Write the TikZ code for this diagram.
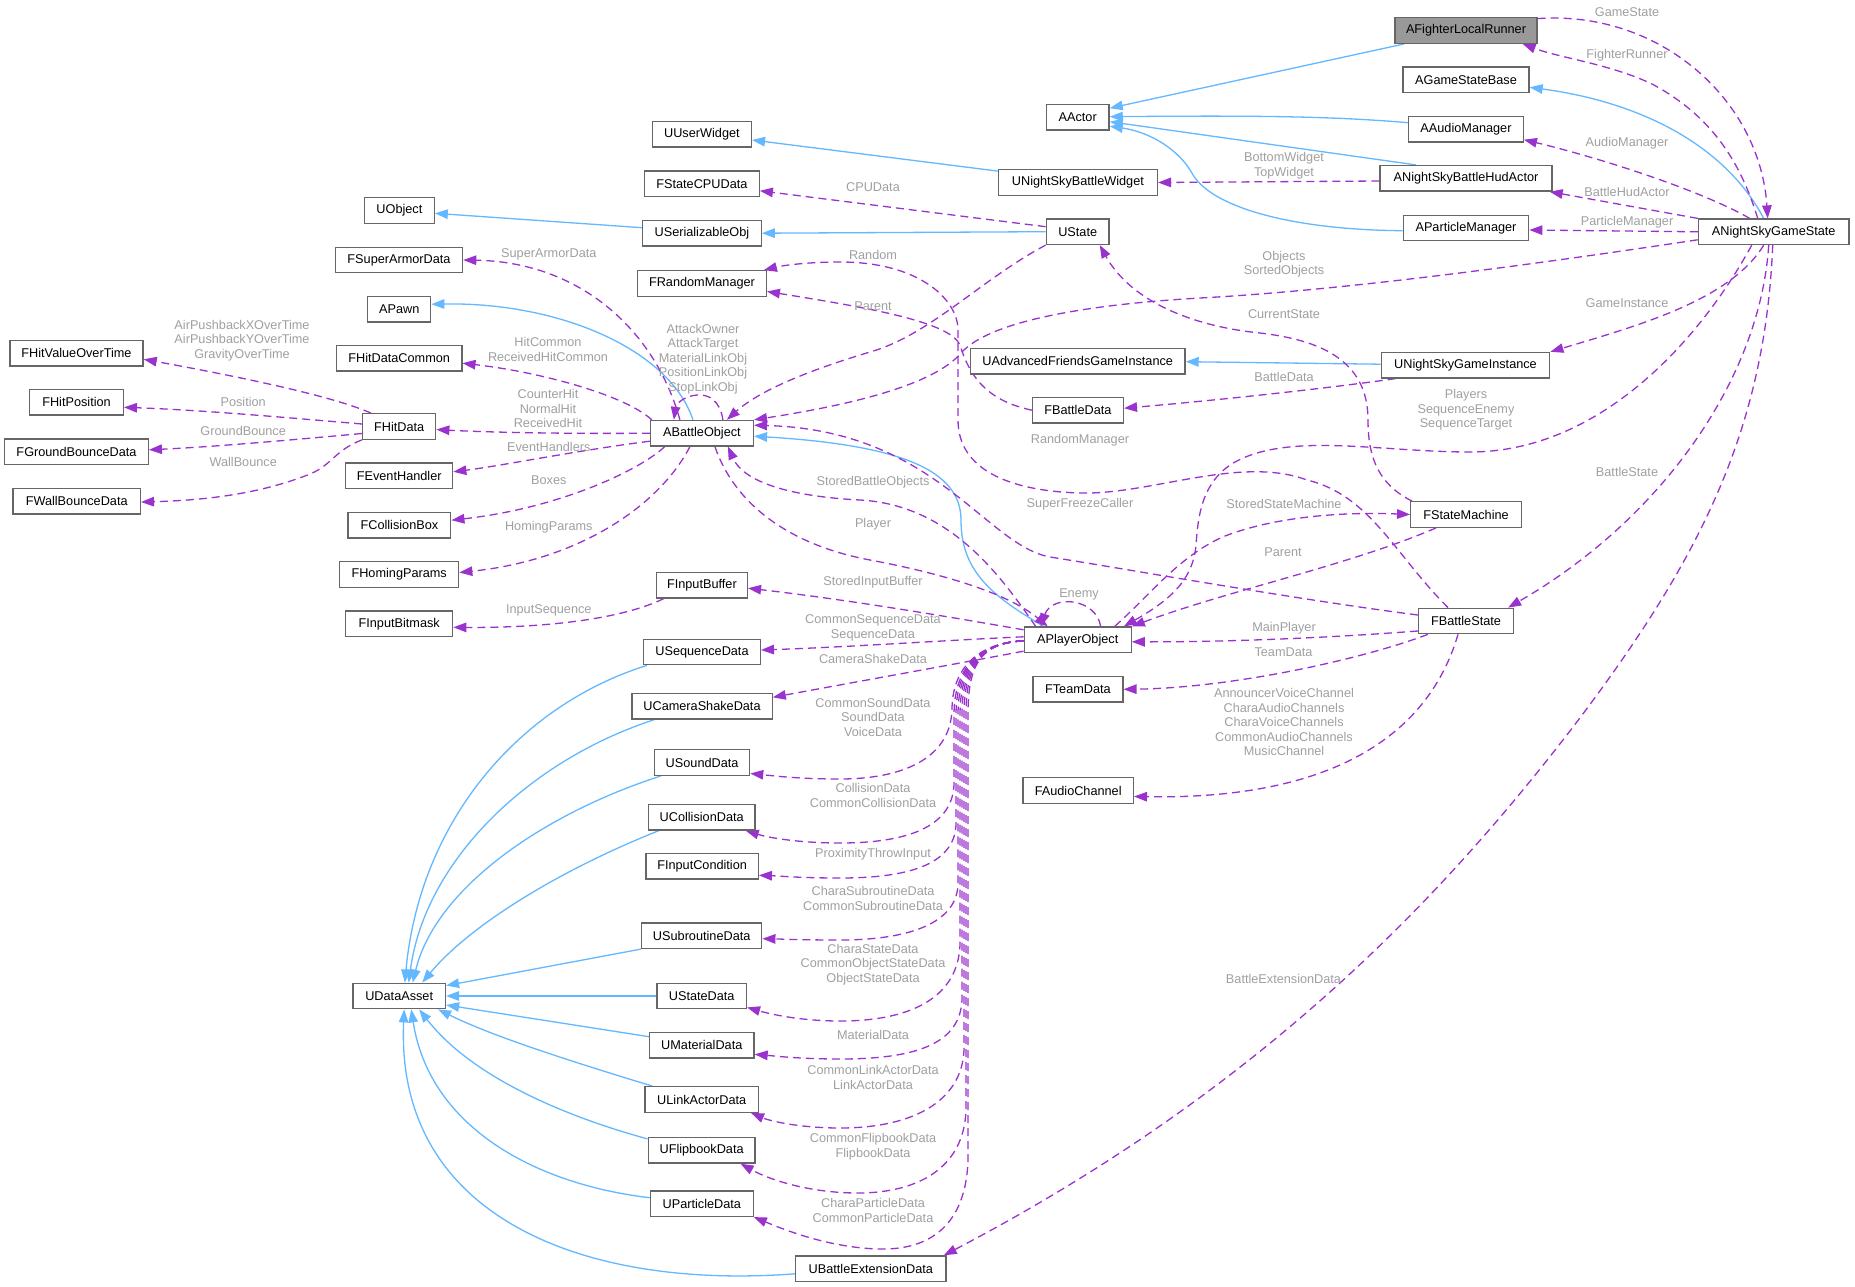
\documentclass[tikz,border=0pt]{standalone}
\usepackage{fontspec}
\setmainfont{Liberation Sans}
\usetikzlibrary{arrows.meta,calc}
\definecolor{edgeblue}{HTML}{63B8FF}
\definecolor{edgepurple}{HTML}{9A32CD}
\definecolor{boxborder}{HTML}{666666}
\definecolor{boxfill}{HTML}{999999}
\definecolor{lblgray}{HTML}{A0A0A0}
\pgfdeclarelayer{bg}
\pgfdeclarelayer{paper}
\pgfsetlayers{paper,bg,main}
\begin{document}
\begin{tikzpicture}[x=1pt,y=-1pt,
  cls/.style={draw=boxborder,line width=1.3pt,fill=white,minimum height=25.5pt,inner sep=0pt,font=\fontsize{12.7}{14.5}\selectfont,text=black},
  lbl/.style={text=lblgray,font=\fontsize{12.7}{14.5}\selectfont,align=center,inner sep=0pt},
  inhedge/.style={draw=edgeblue,line width=1.3pt,-{Triangle[length=13pt,width=9.5pt]}},
  usageedge/.style={draw=edgepurple,line width=1.3pt,dash pattern=on 8pt off 5pt,-{Triangle[length=13pt,width=9.5pt]}},
]
\useasboundingbox (0,0) rectangle (1855,1287);
\begin{pgfonlayer}{paper}
\fill[white] (0,0) rectangle (1855,1287);
\end{pgfonlayer}

% ---------------- nodes ----------------
\node[cls,minimum width=142pt,fill=boxfill] (FLR) at (1466,30.5) {AFighterLocalRunner};
\node[cls,minimum width=126pt] (GSB) at (1466,79.7) {AGameStateBase};
\node[cls,minimum width=114.5pt] (AAM) at (1466,129.3) {AAudioManager};
\node[cls,minimum width=172pt] (HUD) at (1466,178.3) {ANightSkyBattleHudActor};
\node[cls,minimum width=125.5pt] (APM) at (1466,228) {AParticleManager};
\node[cls,minimum width=150.6pt] (NGS) at (1773.7,231.8) {ANightSkyGameState};
\node[cls,minimum width=168.6pt] (NGI) at (1465.5,365.2) {UNightSkyGameInstance};
\node[cls,minimum width=110.6pt] (FSM) at (1466,514.5) {FStateMachine};
\node[cls,minimum width=95pt] (FBS) at (1466,621) {FBattleState};
\node[cls,minimum width=62.8pt] (AAC) at (1077.7,117.2) {AActor};
\node[cls,minimum width=99pt] (UUW) at (701.9,134.3) {UUserWidget};
\node[cls,minimum width=159pt] (NBW) at (1077.9,182.5) {UNightSkyBattleWidget};
\node[cls,minimum width=114.7pt] (CPU) at (701.9,183.8) {FStateCPUData};
\node[cls,minimum width=118.6pt] (USO) at (701.9,233.2) {USerializableObj};
\node[cls,minimum width=62.8pt] (UST) at (1077.7,231.7) {UState};
\node[cls,minimum width=128.5pt] (FRM) at (702,283.5) {FRandomManager};
\node[cls,minimum width=214.7pt] (AFG) at (1077.7,361.2) {UAdvancedFriendsGameInstance};
\node[cls,minimum width=91pt] (FBD) at (1077.9,410.2) {FBattleData};
\node[cls,minimum width=103pt] (ABO) at (701.9,433.2) {ABattleObject};
\node[cls,minimum width=91pt] (FIB) at (701.9,585.2) {FInputBuffer};
\node[cls,minimum width=107pt] (APO) at (1077.7,639.8) {APlayerObject};
\node[cls,minimum width=116.7pt] (USQ) at (702,652) {USequenceData};
\node[cls,minimum width=140.3pt] (UCS) at (702,706.3) {UCameraShakeData};
\node[cls,minimum width=90pt] (FTD) at (1077.9,689.3) {FTeamData};
\node[cls,minimum width=110.3pt] (FAC) at (1078.2,790.5) {FAudioChannel};
\node[cls,minimum width=69.6pt] (UOB) at (399.4,210.5) {UObject};
\node[cls,minimum width=127.3pt] (FSA) at (399,260) {FSuperArmorData};
\node[cls,minimum width=63pt] (APW) at (399.2,309.2) {APawn};
\node[cls,minimum width=125.3pt] (FHC) at (399.2,358.2) {FHitDataCommon};
\node[cls,minimum width=73.1pt] (FHD) at (399.2,426.5) {FHitData};
\node[cls,minimum width=107pt] (FEH) at (399.2,475.8) {FEventHandler};
\node[cls,minimum width=102.8pt] (FCB) at (399.4,525.2) {FCollisionBox};
\node[cls,minimum width=119pt] (FHP) at (399.2,574.5) {FHomingParams};
\node[cls,minimum width=107pt] (FIM) at (399.2,623.8) {FInputBitmask};
\node[cls,minimum width=133.2pt] (HVT) at (76.5,353.3) {FHitValueOverTime};
\node[cls,minimum width=93.7pt] (FPO) at (76.5,402.3) {FHitPosition};
\node[cls,minimum width=143.6pt] (FGB) at (76.5,451.8) {FGroundBounceData};
\node[cls,minimum width=127.4pt] (FWB) at (76.7,501.2) {FWallBounceData};
\node[cls,minimum width=95pt] (USD) at (702.1,762.5) {USoundData};
\node[cls,minimum width=106.7pt] (UCD) at (701.7,817.3) {UCollisionData};
\node[cls,minimum width=112.3pt] (FIC) at (702.1,866.3) {FInputCondition};
\node[cls,minimum width=120.2pt] (USR) at (701.7,935.7) {USubroutineData};
\node[cls,minimum width=89.4pt] (USTD) at (701.7,996) {UStateData};
\node[cls,minimum width=104.4pt] (UMD) at (701.8,1045.3) {UMaterialData};
\node[cls,minimum width=113.4pt] (ULA) at (701.7,1099.5) {ULinkActorData};
\node[cls,minimum width=106.7pt] (UFB) at (701.6,1150.3) {UFlipbookData};
\node[cls,minimum width=102.7pt] (UPD) at (701.8,1203.7) {UParticleData};
\node[cls,minimum width=150.5pt] (UBE) at (870.8,1268.8) {UBattleExtensionData};
\node[cls,minimum width=92.5pt] (UDA) at (399.2,996) {UDataAsset};

% ---------------- labels ----------------
\node[lbl] (lGameState) at (1627,11.7) {GameState};
\node[lbl] (lFighterRunner) at (1627,55) {FighterRunner};
\node[lbl] (lAudioManager) at (1627,143.3) {AudioManager};
\node[lbl] (lBattleHud) at (1627,191.7) {BattleHudActor};
\node[lbl] (lParticleManager) at (1627,222.3) {ParticleManager};
\node[lbl] (lGameInstance) at (1627,303.3) {GameInstance};
\node[lbl] (lBattleState) at (1627,471.7) {BattleState};
\node[lbl] (lWidgets) at (1284,165.5) {BottomWidget\\TopWidget};
\node[lbl] (lObjects) at (1284,264.2) {Objects\\SortedObjects};
\node[lbl] (lCurrentState) at (1284,314) {CurrentState};
\node[lbl] (lBattleData) at (1284,376.7) {BattleData};
\node[lbl] (lPlayers) at (1466,410) {Players\\SequenceEnemy\\SequenceTarget};
\node[lbl] (lRandomManager) at (1080,440.7) {RandomManager};
\node[lbl] (lSuperFreeze) at (1080,504.3) {SuperFreezeCaller};
\node[lbl] (lStoredSM) at (1284,504) {StoredStateMachine};
\node[lbl] (lParentSM) at (1283,552.3) {Parent};
\node[lbl] (lMainPlayer) at (1284,628.3) {MainPlayer};
\node[lbl] (lTeamData) at (1283.5,652.3) {TeamData};
\node[lbl] (lAudioCh) at (1284,722) {AnnouncerVoiceChannel\\CharaAudioChannels\\CharaVoiceChannels\\CommonAudioChannels\\MusicChannel};
\node[lbl] (lBattleExt) at (1283.5,979.3) {BattleExtensionData};
\node[lbl] (lCPUData) at (873,187.3) {CPUData};
\node[lbl] (lRandom) at (873,255) {Random};
\node[lbl] (lParentU) at (873,306) {Parent};
\node[lbl] (lAttack) at (703,358.8) {AttackOwner\\AttackTarget\\MaterialLinkObj\\PositionLinkObj\\StopLinkObj};
\node[lbl] (lStoredBO) at (873,482.7) {StoredBattleObjects};
\node[lbl] (lPlayer) at (873,524.3) {Player};
\node[lbl] (lStoredIB) at (873,582.7) {StoredInputBuffer};
\node[lbl] (lSeq) at (873,628) {CommonSequenceData\\SequenceData};
\node[lbl] (lCam) at (873,659.3) {CameraShakeData};
\node[lbl] (lSound) at (873,717.3) {CommonSoundData\\SoundData\\VoiceData};
\node[lbl] (lColl) at (873,795.3) {CollisionData\\CommonCollisionData};
\node[lbl] (lProx) at (873,854) {ProximityThrowInput};
\node[lbl] (lSub) at (873,898.7) {CharaSubroutineData\\CommonSubroutineData};
\node[lbl] (lState) at (873,964.7) {CharaStateData\\CommonObjectStateData\\ObjectStateData};
\node[lbl] (lMat) at (873,1034.7) {MaterialData};
\node[lbl] (lLink) at (873,1077.3) {CommonLinkActorData\\LinkActorData};
\node[lbl] (lFlip) at (873,1146.5) {CommonFlipbookData\\FlipbookData};
\node[lbl] (lPart) at (873,1210.5) {CharaParticleData\\CommonParticleData};
\node[lbl] (lEnemy) at (1079,594.3) {Enemy};
\node[lbl] (lSuperArmor) at (548.8,254.3) {SuperArmorData};
\node[lbl] (lHitCommon) at (548,349.7) {HitCommon\\ReceivedHitCommon};
\node[lbl] (lCounterHit) at (548,408.6) {CounterHit\\NormalHit\\ReceivedHit};
\node[lbl] (lEventHandlers) at (548.8,446.7) {EventHandlers};
\node[lbl] (lBoxes) at (548.8,480.3) {Boxes};
\node[lbl] (lHoming) at (548.8,527.7) {HomingParams};
\node[lbl] (lInputSeq) at (548.8,610.7) {InputSequence};
\node[lbl] (lAirPush) at (242,340.7) {AirPushbackXOverTime\\AirPushbackYOverTime\\GravityOverTime};
\node[lbl] (lPosition) at (243.2,402.3) {Position};
\node[lbl] (lGround) at (243.2,431.3) {GroundBounce};
\node[lbl] (lWall) at (243.2,462.3) {WallBounce};

% ---------------- edges ----------------
\begin{pgfonlayer}{bg}
% inheritance
\draw[inhedge] ($(FLR.south west)+(10,0)$) -- ($(AAC.east)+(0,-9)$);
\draw[inhedge] ($(AAM.west)+(0,-6.6)$) .. controls (1330,116) and (1250,115.5) .. ($(AAC.east)+(0,-0.5)$);
\draw[inhedge] ($(HUD.north west)+(36.5,0)$) -- ($(AAC.east)+(0,4.5)$);
\draw[inhedge] ($(APM.west)+(0,2.7)$) .. controls (1300,230) and (1215,210) .. (1193,175) .. controls (1180,150) and (1150,132) .. ($(AAC.east)+(0,9)$);
\draw[inhedge] ($(NGS.north)+(-10,0)$) .. controls (1725,145) and (1640,102) .. ($(GSB.east)+(0,7.6)$);
\draw[inhedge] ($(NBW.north west)+(0,2)$) -- ($(UUW.east)+(0,5.7)$);
\draw[inhedge] (UST.west) -- (USO.east);
\draw[inhedge] ($(USO.west)+(0,-5.5)$) -- ($(UOB.east)+(0,2.8)$);
\draw[inhedge] ($(ABO.north)+(-9,0)$) .. controls (670,350) and (560,302) .. ($(APW.east)+(0,-5)$);
\draw[inhedge] ($(APO.north)+(-34,0)$) .. controls (990,595) and (961,570) .. (961,520) .. controls (961,470) and (900,445) .. ($(ABO.east)+(0,3)$);
\draw[inhedge] ($(NGI.west)+(0,-1)$) -- ($(AFG.east)+(0,0.5)$);
\draw[inhedge] ($(USQ.south west)+(4,0)$) .. controls (520,705) and (420,820) .. ($(UDA.north)+(5.6,0)$);
\draw[inhedge] ($(UCS.south west)+(23,0)$) .. controls (530,760) and (425,860) .. ($(UDA.north)+(9.5,0)$);
\draw[inhedge] ($(USD.south west)+(7,0)$) .. controls (540,815) and (435,890) .. ($(UDA.north)+(13.5,0)$);
\draw[inhedge] ($(UCD.south west)+(11,0)$) .. controls (560,870) and (470,925) .. ($(UDA.north)+(23,0)$);
\draw[inhedge] (USR.south west) -- ($(UDA.north east)+(0,3)$);
\draw[inhedge] (USTD.west) -- (UDA.east);
\draw[inhedge] ($(UMD.west)+(0,-8.6)$) -- ($(UDA.east)+(0,9)$);
\draw[inhedge] ($(ULA.north west)+(8,0)$) .. controls (560,1058) and (490,1035) .. ($(UDA.south east)+(-8,0)$);
\draw[inhedge] ($(UFB.north west)+(0,2)$) .. controls (560,1115) and (470,1075) .. ($(UDA.south)+(20,0)$);
\draw[inhedge] ($(UPD.west)+(0,-6)$) .. controls (540,1185) and (430,1130) .. ($(UDA.south)+(12,0)$);
\draw[inhedge] ($(UBE.west)+(0,5)$) .. controls (580,1290) and (395,1215) .. ($(UDA.south)+(5,0)$);

% usage: right part
\draw[usageedge] ($(FLR.north east)+(0,1.5)$) .. controls (1660,10) and (1760,100) .. ($(NGS.north)+(-6,0)$);
\draw[usageedge] ($(NGS.north)+(-16,0)$) .. controls (1740,160) and (1710,115) .. (1652,84) .. controls (1610,64) and (1560,58) .. ($(FLR.south east)+(-15,0)$);
\draw[usageedge] ($(NGS.north west)+(52,0)$) .. controls (1700,190) and (1600,158) .. ($(AAM.south east)+(0,-3)$);
\draw[usageedge] (NGS.north west) -- ($(HUD.south east)+(-3,0)$);
\draw[usageedge] (NGS.west) -- ($(APM.east)+(0,2)$);
\draw[usageedge] ($(NGS.south)+(-10,0)$) .. controls (1730,300) and (1640,325) .. (NGI.north east);
\draw[usageedge] ($(NGS.south)+(-5,0)$) .. controls (1760,380) and (1660,520) .. ($(FBS.north east)+(-6,0)$);
\draw[usageedge] ($(NGS.south)+(-1,0)$) .. controls (1765,430) and (1700,560) .. (1573,727) .. controls (1440,900) and (1260,1090) .. ($(UBE.north east)+(-3,0)$);
\draw[usageedge] ($(NGS.south)+(-22,0)$) .. controls (1700,340) and (1600,452) .. (1470,452) .. controls (1380,452) and (1290,432) .. (1235,462) .. controls (1200,482) and (1198,520) .. (1196,545) .. controls (1193,580) and (1170,600) .. ($(APO.north east)+(-8,0)$);
\draw[usageedge] ($(NGS.west)+(0,8)$) .. controls (1550,262) and (1350,290) .. (1200,298) .. controls (1080,305) and (990,322) .. (962,352) .. controls (935,385) and (850,405) .. (ABO.north east);
\draw[usageedge] ($(HUD.west)+(0,2.7)$) -- (NBW.east);
\draw[usageedge] ($(NGI.south west)+(15,0)$) .. controls (1330,388) and (1220,400) .. ($(FBD.east)+(0,-2)$);
\draw[usageedge] ($(FSM.north west)+(2,0)$) .. controls (1380,485) and (1368,460) .. (1368,420) .. controls (1368,360) and (1320,340) .. (1260,333) .. controls (1190,326) and (1130,300) .. ($(UST.south east)+(-10,0)$);
\draw[usageedge] ($(APO.north)+(37,0)$) .. controls (1150,595) and (1180,555) .. (1225,536) .. controls (1280,515) and (1350,512) .. (FSM.west);
\draw[usageedge] ($(FSM.south west)+(26,0)$) .. controls (1350,565) and (1230,590) .. (APO.north east);
\draw[usageedge] ($(FBS.west)+(0,10)$) .. controls (1300,640) and (1200,642) .. ($(APO.east)+(0,2)$);
\draw[usageedge] ($(FBS.south west)+(10,0)$) .. controls (1360,660) and (1230,688) .. (FTD.east);
\draw[usageedge] ($(FBS.south)+(-8,0)$) .. controls (1430,730) and (1340,800) .. ($(FAC.east)+(0,6)$);
\draw[usageedge] ($(FBS.west)+(0,-6)$) .. controls (1300,600) and (1120,568) .. (1050,557) .. controls (985,545) and (935,430) .. ($(ABO.east)+(0,-8)$);
\draw[usageedge] ($(FBS.north)+(-18,0)$) .. controls (1395,555) and (1370,495) .. (1307,480) .. controls (1240,455) and (1150,495) .. (1080,493) .. controls (1010,491) and (958,470) .. (958,420) -- (958,330) .. controls (958,300) and (920,262) .. (840,262) .. controls (810,262) and (785,265) .. ($(FRM.north east)+(-3,0)$);

% usage: middle
\draw[usageedge] (FBD.west) .. controls (995,402) and (972,385) .. (960,345) .. controls (950,322) and (870,308) .. ($(FRM.east)+(0,8)$);
\draw[usageedge] (UST.south west) .. controls (980,280) and (930,335) .. (870,352) .. controls (810,370) and (760,390) .. ($(ABO.north)+(25,0)$);
\draw[usageedge] ($(UST.west)+(0,-5)$) -- ($(CPU.east)+(0,7)$);
\draw[usageedge] ($(ABO.north)+(21,0)$) .. controls (720,400) and (708,394) .. (697,395) .. controls (684,396) and (676,404) .. ($(ABO.north)+(-28,0)$);
\draw[usageedge] ($(ABO.south)+(13,0)$) .. controls (735,505) and (790,545) .. (870,560) .. controls (950,575) and (1010,595) .. ($(APO.north)+(-30,0)$);
\draw[usageedge] ($(APO.north)+(-42,0)$) .. controls (1000,575) and (950,505) .. (860,500) .. controls (800,497) and (745,485) .. ($(ABO.south)+(26,0)$);
\draw[usageedge] ($(APO.north)+(23,0)$) .. controls (1096,598) and (1052,594) .. ($(APO.north)+(-37,0)$);
\draw[usageedge] ($(APO.west)+(0,-10)$) .. controls (950,617) and (850,600) .. ($(FIB.east)+(0,3)$);
\draw[usageedge] ($(APO.west)+(0,-3)$) .. controls (950,640) and (850,647) .. ($(USQ.east)+(0,-2)$);
\draw[usageedge] ($(APO.south west)+(0,-2)$) .. controls (950,665) and (850,683) .. ($(UCS.east)+(0,-9)$);
\draw[usageedge] ($(APO.west)+(0,1)$) .. controls (978,643) and (952,668) .. (952,710) .. controls (950,760) and (900,779) .. (840,779) .. controls (800,779) and (775,776) .. ($(USD.east)+(0,11)$);
\draw[usageedge] ($(APO.west)+(0,1)$) .. controls (978,643) and (954,668) .. (954,715) -- (954,785) .. controls (952,828) and (905,843) .. (840,843) .. controls (800,843) and (770,838) .. ($(UCD.south east)+(-10,0)$);
\draw[usageedge] ($(APO.west)+(0,1)$) .. controls (978,643) and (956,668) .. (956,715) -- (956,825) .. controls (954,866) and (905,878) .. (840,878) .. controls (800,878) and (780,876) .. ($(FIC.east)+(0,9)$);
\draw[usageedge] ($(APO.west)+(0,1)$) .. controls (978,643) and (958,668) .. (958,715) -- (958,885) .. controls (956,925) and (905,940) .. (840,940) .. controls (800,940) and (780,939) .. ($(USR.east)+(0,3)$);
\draw[usageedge] ($(APO.west)+(0,1)$) .. controls (978,643) and (960,668) .. (960,715) -- (960,945) .. controls (958,995) and (915,1021) .. (840,1021) .. controls (800,1021) and (770,1014) .. ($(USTD.south east)+(0,-2)$);
\draw[usageedge] ($(APO.west)+(0,1)$) .. controls (978,643) and (962,668) .. (962,715) -- (962,1000) .. controls (960,1042) and (920,1059) .. (840,1059) .. controls (800,1059) and (775,1056) .. ($(UMD.east)+(0,9)$);
\draw[usageedge] ($(APO.west)+(0,1)$) .. controls (978,643) and (964,668) .. (964,715) -- (964,1050) .. controls (962,1100) and (915,1128) .. (840,1128) .. controls (800,1128) and (770,1121) .. ($(ULA.south east)+(-8,0)$);
\draw[usageedge] ($(APO.west)+(0,1)$) .. controls (978,643) and (966,668) .. (966,715) -- (966,1110) .. controls (964,1170) and (915,1193) .. (858,1193) .. controls (810,1193) and (770,1180) .. ($(UFB.south east)+(-15,0)$);
\draw[usageedge] ($(APO.west)+(0,1)$) .. controls (978,643) and (968,668) .. (968,715) -- (968,1160) .. controls (966,1225) and (930,1250) .. (880,1249) .. controls (830,1248) and (785,1230) .. (UPD.south east);

% usage: ABattleObject to left column
\draw[usageedge] ($(ABO.north)+(-22,0)$) .. controls (655,330) and (580,262) .. (FSA.east);
\draw[usageedge] ($(ABO.north west)+(2,0)$) .. controls (625,395) and (540,372) .. ($(FHC.east)+(0,5)$);
\draw[usageedge] (ABO.west) .. controls (560,434) and (480,432) .. ($(FHD.east)+(0,3)$);
\draw[usageedge] ($(ABO.west)+(0,8)$) .. controls (580,450) and (500,466) .. ($(FEH.east)+(0,-4)$);
\draw[usageedge] ($(ABO.south west)+(15,0)$) .. controls (640,470) and (560,508) .. ($(FCB.east)+(0,-5)$);
\draw[usageedge] ($(ABO.south)+(-12,0)$) .. controls (660,505) and (580,560) .. ($(FHP.east)+(0,-2)$);
\draw[usageedge] ($(FIB.south west)+(8,0)$) .. controls (620,620) and (540,628) .. ($(FIM.east)+(0,3.5)$);

% usage: FHitData to far left column
\draw[usageedge] ($(FHD.north west)+(9,0)$) .. controls (330,395) and (230,375) .. ($(HVT.east)+(0,6)$);
\draw[usageedge] ($(FHD.west)+(0,-2.5)$) .. controls (280,417) and (200,410) .. ($(FPO.east)+(0,5)$);
\draw[usageedge] ($(FHD.west)+(0,7)$) .. controls (280,441) and (210,447) .. ($(FGB.east)+(0,-2)$);
\draw[usageedge] (FHD.south west) .. controls (335,450) and (332,465) .. (310,474) .. controls (270,490) and (220,500) .. ($(FWB.east)+(0,0.8)$);
\end{pgfonlayer}
\end{tikzpicture}
\end{document}
